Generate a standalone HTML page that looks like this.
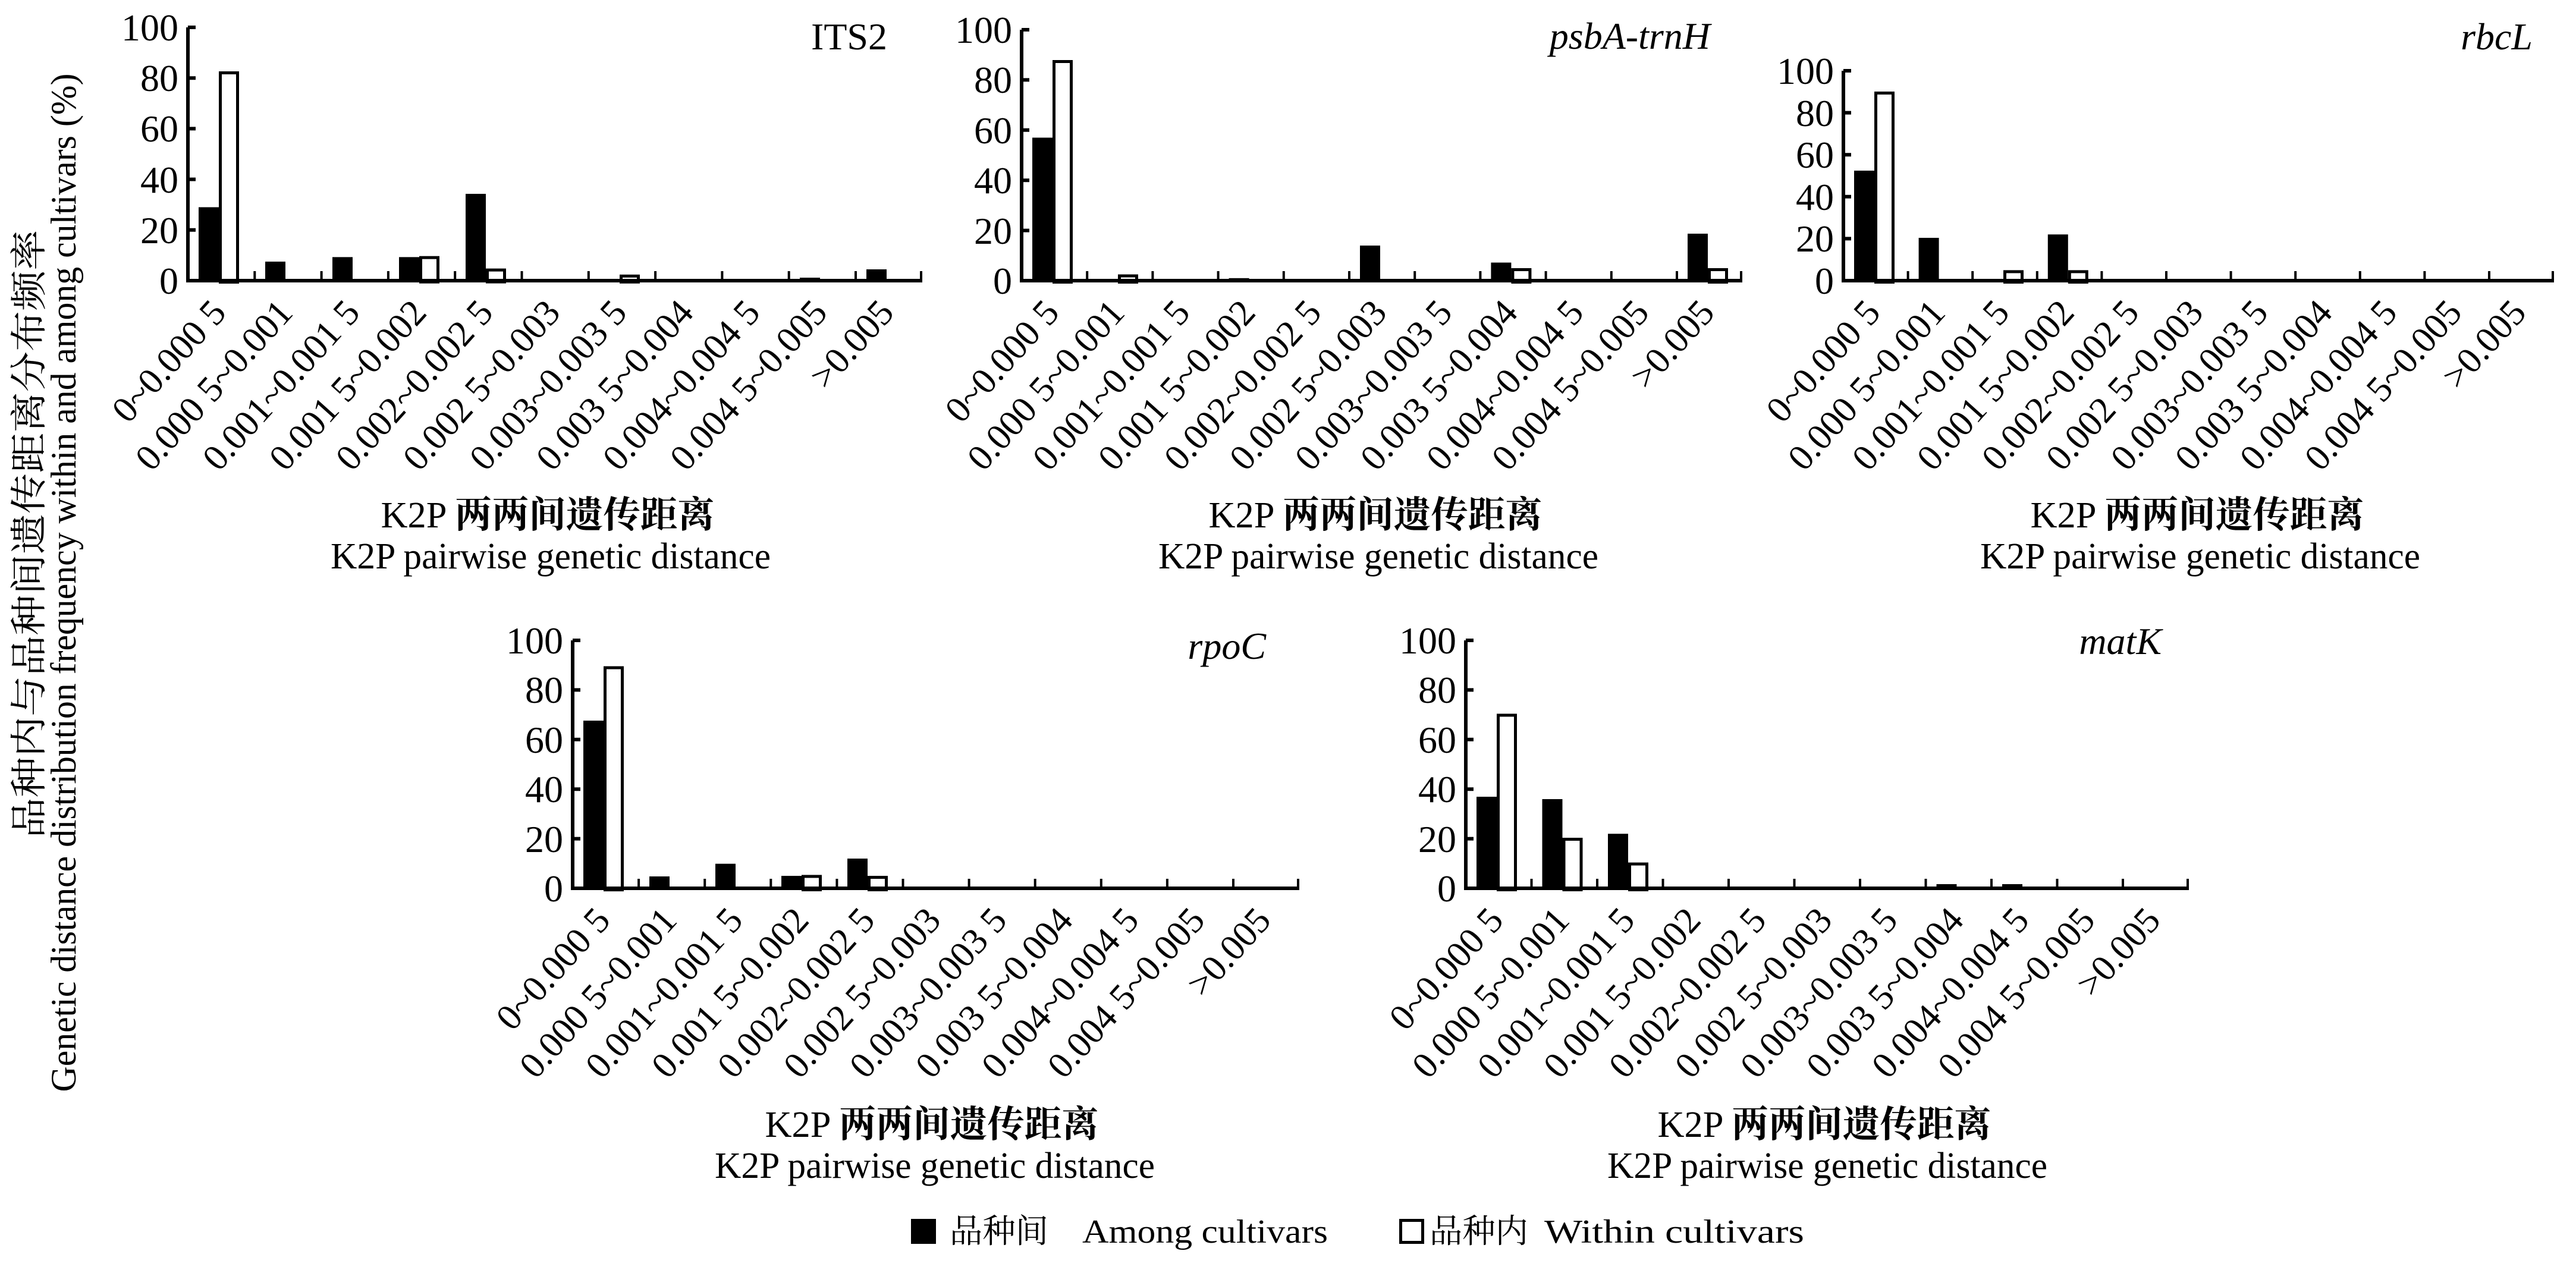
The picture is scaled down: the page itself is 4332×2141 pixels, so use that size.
<!DOCTYPE html>
<html><head><meta charset="utf-8"><style>
html,body{margin:0;padding:0;background:#fff;}
svg{display:block;}
text{font-family:"Liberation Serif","Noto Serif CJK SC",serif;fill:#000;}
.t{font-size:64px;}
.xt{font-size:62px;}
.ax{stroke:#000;stroke-width:6;fill:none;}
.ct{stroke:#000;stroke-width:4;}
.b{fill:#000;}
.w{fill:#fff;stroke:#000;stroke-width:5;}
</style></head><body>
<svg width="4332" height="2141" viewBox="0 0 4332 2141" xmlns="http://www.w3.org/2000/svg">
<rect width="4332" height="2141" fill="#fff"/>

<text transform="translate(70,898) rotate(-90)" text-anchor="middle" font-size="62" textLength="1023" lengthAdjust="spacingAndGlyphs">品种内与品种间遗传距离分布频率</text>
<text transform="translate(127,980) rotate(-90)" text-anchor="middle" font-size="60" textLength="1713" lengthAdjust="spacingAndGlyphs">Genetic distance distribution frequency within and among cultivars (%)</text>

<!-- ===== ITS2 ===== -->
<g transform="translate(316,472)">
<rect class="b" x="18" y="-123.5" width="34" height="123.5"/>
<rect class="w" x="54.5" y="-349.5" width="29" height="352"/>
<rect class="b" x="130" y="-32" width="34" height="32"/>
<rect class="b" x="243" y="-39.6" width="34" height="39.6"/>
<rect class="b" x="355" y="-39.6" width="34" height="39.6"/>
<rect class="w" x="391.5" y="-38.8" width="29" height="41"/>
<rect class="b" x="467" y="-146" width="34" height="146"/>
<rect class="w" x="503.5" y="-17.9" width="29" height="20"/>
<rect class="w" x="728.5" y="-7.7" width="29" height="10"/>
<rect class="b" x="804" y="-2" width="34" height="2"/>
<rect class="b" x="1029" y="-5" width="34" height="5"/>
<rect class="b" x="1141" y="-19" width="34" height="19"/>
<path class="ax" d="M0,-426 V0 H1235"/>
<path class="ax" d="M0,0 H13 M0,-85.2 H13 M0,-170.4 H13 M0,-255.6 H13 M0,-340.8 H13 M0,-426 H13"/>
<path class="ct" d="M112.3,0V-16 M224.6,0V-16 M336.9,0V-16 M449.2,0V-16 M561.5,0V-16 M673.8,0V-16 M786.1,0V-16 M898.4,0V-16 M1010.7,0V-16 M1123,0V-16 M1233,0V-16"/>
<g class="t" text-anchor="end">
<text x="-16" y="22">0</text><text x="-16" y="-63">20</text><text x="-16" y="-148">40</text><text x="-16" y="-234">60</text><text x="-16" y="-319">80</text><text x="-16" y="-404">100</text>
</g>
<g class="xt" text-anchor="end">
<text transform="translate(67,56) rotate(-48)">0~0.000 5</text>
<text transform="translate(179,56) rotate(-48)">0.000 5~0.001</text>
<text transform="translate(292,56) rotate(-48)">0.001~0.001 5</text>
<text transform="translate(404,56) rotate(-48)">0.001 5~0.002</text>
<text transform="translate(516,56) rotate(-48)">0.002~0.002 5</text>
<text transform="translate(629,56) rotate(-48)">0.002 5~0.003</text>
<text transform="translate(741,56) rotate(-48)">0.003~0.003 5</text>
<text transform="translate(853,56) rotate(-48)">0.003 5~0.004</text>
<text transform="translate(965,56) rotate(-48)">0.004~0.004 5</text>
<text transform="translate(1078,56) rotate(-48)">0.004 5~0.005</text>
<text transform="translate(1190,56) rotate(-48)">&gt;0.005</text>
</g>
<text class="t" x="1176" y="-389" text-anchor="end">ITS2</text>
</g>
<text x="921" y="887" text-anchor="middle" font-size="62" textLength="561" lengthAdjust="spacingAndGlyphs">K2P <tspan font-weight="bold">两两间遗传距离</tspan></text>
<text x="926" y="956" text-anchor="middle" font-size="62" textLength="740" lengthAdjust="spacingAndGlyphs">K2P pairwise genetic distance</text>

<!-- ===== psbA-trnH ===== -->
<g transform="translate(1718,472)">
<rect class="b" x="18" y="-240.5" width="34" height="240.5"/>
<rect class="w" x="54.5" y="-368.5" width="29" height="371"/>
<rect class="w" x="164.5" y="-8" width="29" height="10.5"/>
<rect class="b" x="348.6" y="-4.2" width="34" height="4.2"/>
<rect class="b" x="569" y="-59" width="34" height="59"/>
<rect class="b" x="789.4" y="-30.4" width="34" height="30.4"/>
<rect class="w" x="825.9" y="-18.5" width="29" height="21"/>
<rect class="b" x="1120" y="-79" width="34" height="79"/>
<rect class="w" x="1156.5" y="-18.5" width="29" height="21"/>
<path class="ax" d="M0,-422 V0 H1212"/>
<path class="ax" d="M0,0 H13 M0,-84.4 H13 M0,-168.8 H13 M0,-253.2 H13 M0,-337.6 H13 M0,-422 H13"/>
<path class="ct" d="M110.2,0V-16 M220.4,0V-16 M330.6,0V-16 M440.8,0V-16 M551,0V-16 M661.2,0V-16 M771.4,0V-16 M881.6,0V-16 M991.8,0V-16 M1102,0V-16 M1210,0V-16"/>
<g class="t" text-anchor="end">
<text x="-16" y="22">0</text><text x="-16" y="-62">20</text><text x="-16" y="-147">40</text><text x="-16" y="-231">60</text><text x="-16" y="-316">80</text><text x="-16" y="-400">100</text>
</g>
<g class="xt" text-anchor="end">
<text transform="translate(66,56) rotate(-48)">0~0.000 5</text>
<text transform="translate(176,56) rotate(-48)">0.000 5~0.001</text>
<text transform="translate(286,56) rotate(-48)">0.001~0.001 5</text>
<text transform="translate(396,56) rotate(-48)">0.001 5~0.002</text>
<text transform="translate(507,56) rotate(-48)">0.002~0.002 5</text>
<text transform="translate(617,56) rotate(-48)">0.002 5~0.003</text>
<text transform="translate(727,56) rotate(-48)">0.003~0.003 5</text>
<text transform="translate(837,56) rotate(-48)">0.003 5~0.004</text>
<text transform="translate(948,56) rotate(-48)">0.004~0.004 5</text>
<text transform="translate(1058,56) rotate(-48)">0.004 5~0.005</text>
<text transform="translate(1168,56) rotate(-48)">&gt;0.005</text>
</g>
<text class="t" x="1158" y="-390" text-anchor="end" font-style="italic">psbA-trnH</text>
</g>
<text x="2313" y="887" text-anchor="middle" font-size="62" textLength="561" lengthAdjust="spacingAndGlyphs">K2P <tspan font-weight="bold">两两间遗传距离</tspan></text>
<text x="2318" y="956" text-anchor="middle" font-size="62" textLength="740" lengthAdjust="spacingAndGlyphs">K2P pairwise genetic distance</text>

<!-- ===== rbcL ===== -->
<g transform="translate(3100,472)">
<rect class="b" x="18" y="-185" width="34" height="185"/>
<rect class="w" x="54.5" y="-315.5" width="29" height="318"/>
<rect class="b" x="126.6" y="-72" width="34" height="72"/>
<rect class="w" x="271.5" y="-15.1" width="29" height="17.6"/>
<rect class="b" x="343.8" y="-77.7" width="34" height="77.7"/>
<rect class="w" x="380.3" y="-15.1" width="29" height="17.6"/>
<path class="ax" d="M0,-353 V0 H1195"/>
<path class="ax" d="M0,0 H13 M0,-70.6 H13 M0,-141.2 H13 M0,-211.8 H13 M0,-282.4 H13 M0,-353 H13"/>
<path class="ct" d="M108.6,0V-16 M217.2,0V-16 M325.8,0V-16 M434.4,0V-16 M543,0V-16 M651.6,0V-16 M760.2,0V-16 M868.8,0V-16 M977.4,0V-16 M1086,0V-16 M1193,0V-16"/>
<g class="t" text-anchor="end">
<text x="-16" y="22">0</text><text x="-16" y="-49">20</text><text x="-16" y="-119">40</text><text x="-16" y="-190">60</text><text x="-16" y="-260">80</text><text x="-16" y="-331">100</text>
</g>
<g class="xt" text-anchor="end">
<text transform="translate(65,56) rotate(-48)">0~0.000 5</text>
<text transform="translate(174,56) rotate(-48)">0.000 5~0.001</text>
<text transform="translate(282,56) rotate(-48)">0.001~0.001 5</text>
<text transform="translate(391,56) rotate(-48)">0.001 5~0.002</text>
<text transform="translate(500,56) rotate(-48)">0.002~0.002 5</text>
<text transform="translate(608,56) rotate(-48)">0.002 5~0.003</text>
<text transform="translate(717,56) rotate(-48)">0.003~0.003 5</text>
<text transform="translate(825,56) rotate(-48)">0.003 5~0.004</text>
<text transform="translate(934,56) rotate(-48)">0.004~0.004 5</text>
<text transform="translate(1043,56) rotate(-48)">0.004 5~0.005</text>
<text transform="translate(1151,56) rotate(-48)">&gt;0.005</text>
</g>
<text class="t" x="1159" y="-389" text-anchor="end" font-style="italic">rbcL</text>
</g>
<text x="3695" y="887" text-anchor="middle" font-size="62" textLength="561" lengthAdjust="spacingAndGlyphs">K2P <tspan font-weight="bold">两两间遗传距离</tspan></text>
<text x="3700" y="956" text-anchor="middle" font-size="62" textLength="740" lengthAdjust="spacingAndGlyphs">K2P pairwise genetic distance</text>

<!-- ===== rpoC ===== -->
<g transform="translate(963,1494)">
<rect class="b" x="18" y="-282" width="34" height="282"/>
<rect class="w" x="54.5" y="-371" width="29" height="373.6"/>
<rect class="b" x="129" y="-20" width="34" height="20"/>
<rect class="b" x="240" y="-41.3" width="34" height="41.3"/>
<rect class="b" x="351" y="-20.9" width="34" height="20.9"/>
<rect class="w" x="387.5" y="-20" width="29" height="22.5"/>
<rect class="b" x="462" y="-50" width="34" height="50"/>
<rect class="w" x="498.5" y="-18.4" width="29" height="20.9"/>
<path class="ax" d="M0,-417 V0 H1222"/>
<path class="ax" d="M0,0 H13 M0,-83.4 H13 M0,-166.8 H13 M0,-250.2 H13 M0,-333.6 H13 M0,-417 H13"/>
<path class="ct" d="M111.1,0V-16 M222.2,0V-16 M333.3,0V-16 M444.4,0V-16 M555.5,0V-16 M666.6,0V-16 M777.7,0V-16 M888.8,0V-16 M999.9,0V-16 M1111,0V-16 M1220,0V-16"/>
<g class="t" text-anchor="end">
<text x="-16" y="22">0</text><text x="-16" y="-61">20</text><text x="-16" y="-145">40</text><text x="-16" y="-228">60</text><text x="-16" y="-312">80</text><text x="-16" y="-395">100</text>
</g>
<g class="xt" text-anchor="end">
<text transform="translate(66,56) rotate(-48)">0~0.000 5</text>
<text transform="translate(178,56) rotate(-48)">0.000 5~0.001</text>
<text transform="translate(289,56) rotate(-48)">0.001~0.001 5</text>
<text transform="translate(400,56) rotate(-48)">0.001 5~0.002</text>
<text transform="translate(511,56) rotate(-48)">0.002~0.002 5</text>
<text transform="translate(622,56) rotate(-48)">0.002 5~0.003</text>
<text transform="translate(733,56) rotate(-48)">0.003~0.003 5</text>
<text transform="translate(844,56) rotate(-48)">0.003 5~0.004</text>
<text transform="translate(955,56) rotate(-48)">0.004~0.004 5</text>
<text transform="translate(1066,56) rotate(-48)">0.004 5~0.005</text>
<text transform="translate(1177,56) rotate(-48)">&gt;0.005</text>
</g>
<text class="t" x="1166" y="-386" text-anchor="end" font-style="italic">rpoC</text>
</g>
<text x="1567" y="1912" text-anchor="middle" font-size="62" textLength="561" lengthAdjust="spacingAndGlyphs">K2P <tspan font-weight="bold">两两间遗传距离</tspan></text>
<text x="1572" y="1981" text-anchor="middle" font-size="62" textLength="740" lengthAdjust="spacingAndGlyphs">K2P pairwise genetic distance</text>

<!-- ===== matK ===== -->
<g transform="translate(2465,1494)">
<rect class="b" x="18" y="-154" width="34" height="154"/>
<rect class="w" x="54.5" y="-291.1" width="29" height="293.6"/>
<rect class="b" x="128.5" y="-150" width="34" height="150"/>
<rect class="w" x="165" y="-82.5" width="29" height="85"/>
<rect class="b" x="239" y="-91.7" width="34" height="91.7"/>
<rect class="w" x="275.5" y="-40.9" width="29" height="43.4"/>
<rect class="b" x="791.5" y="-7" width="34" height="7"/>
<rect class="b" x="902" y="-7" width="34" height="7"/>
<rect class="b" x="1012.5" y="-2" width="34" height="2"/>
<path class="ax" d="M0,-417 V0 H1216"/>
<path class="ax" d="M0,0 H13 M0,-83.4 H13 M0,-166.8 H13 M0,-250.2 H13 M0,-333.6 H13 M0,-417 H13"/>
<path class="ct" d="M110.5,0V-16 M221,0V-16 M331.5,0V-16 M442,0V-16 M552.5,0V-16 M663,0V-16 M773.5,0V-16 M884,0V-16 M994.5,0V-16 M1105,0V-16 M1214,0V-16"/>
<g class="t" text-anchor="end">
<text x="-16" y="22">0</text><text x="-16" y="-61">20</text><text x="-16" y="-145">40</text><text x="-16" y="-228">60</text><text x="-16" y="-312">80</text><text x="-16" y="-395">100</text>
</g>
<g class="xt" text-anchor="end">
<text transform="translate(66,56) rotate(-48)">0~0.000 5</text>
<text transform="translate(177,56) rotate(-48)">0.000 5~0.001</text>
<text transform="translate(287,56) rotate(-48)">0.001~0.001 5</text>
<text transform="translate(398,56) rotate(-48)">0.001 5~0.002</text>
<text transform="translate(508,56) rotate(-48)">0.002~0.002 5</text>
<text transform="translate(619,56) rotate(-48)">0.002 5~0.003</text>
<text transform="translate(729,56) rotate(-48)">0.003~0.003 5</text>
<text transform="translate(840,56) rotate(-48)">0.003 5~0.004</text>
<text transform="translate(950,56) rotate(-48)">0.004~0.004 5</text>
<text transform="translate(1061,56) rotate(-48)">0.004 5~0.005</text>
<text transform="translate(1171,56) rotate(-48)">&gt;0.005</text>
</g>
<text class="t" x="1170" y="-394" text-anchor="end" font-style="italic">matK</text>
</g>
<text x="3068" y="1912" text-anchor="middle" font-size="62" textLength="561" lengthAdjust="spacingAndGlyphs">K2P <tspan font-weight="bold">两两间遗传距离</tspan></text>
<text x="3073" y="1981" text-anchor="middle" font-size="62" textLength="740" lengthAdjust="spacingAndGlyphs">K2P pairwise genetic distance</text>

<!-- Legend -->
<rect x="1532" y="2050" width="42" height="42" fill="#000"/>
<text x="1597" y="2090" font-size="56" textLength="166" lengthAdjust="spacingAndGlyphs">品种间</text>
<text x="1820" y="2090" font-size="56" textLength="413" lengthAdjust="spacingAndGlyphs">Among cultivars</text>
<rect x="2355.5" y="2052.5" width="37" height="37" fill="#fff" stroke="#000" stroke-width="5"/>
<text x="2404" y="2090" font-size="56" textLength="166" lengthAdjust="spacingAndGlyphs">品种内</text>
<text x="2597" y="2090" font-size="56" textLength="437" lengthAdjust="spacingAndGlyphs">Within cultivars</text>
</svg>
</body></html>
